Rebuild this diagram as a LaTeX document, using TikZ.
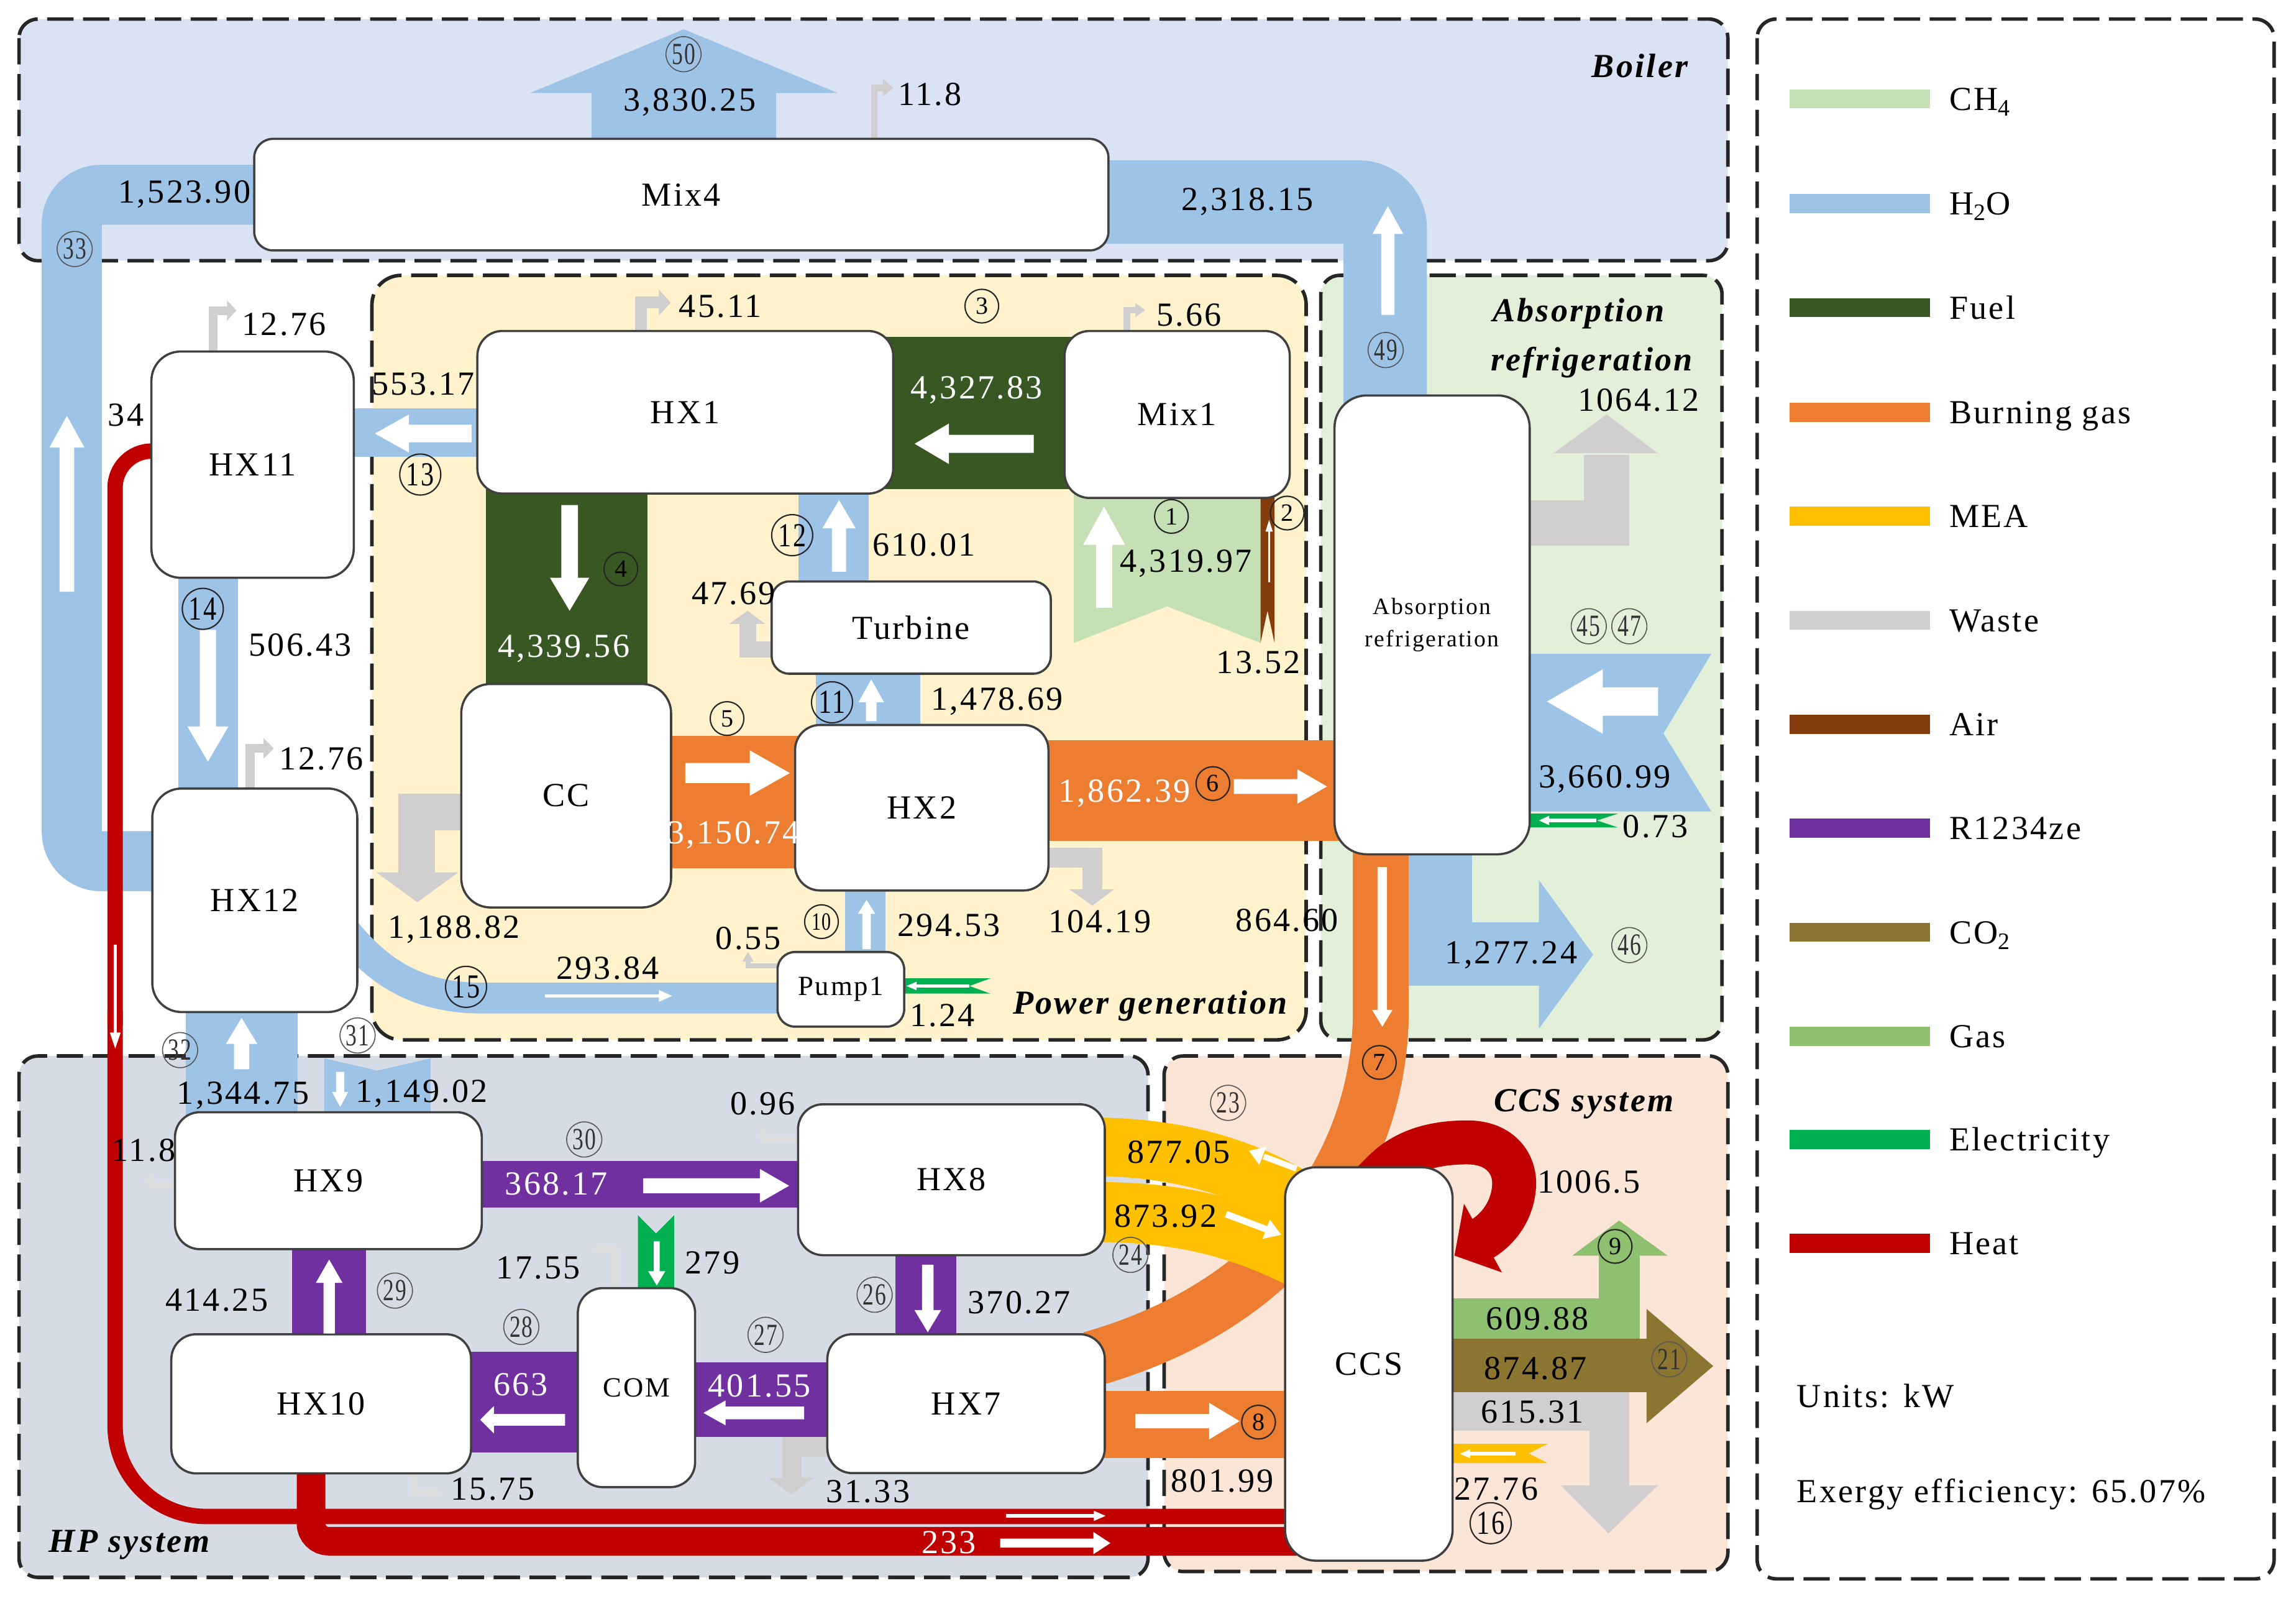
\documentclass[tikz,border=0pt]{standalone}
\usepackage{fontspec}
\setmainfont{Liberation Serif}[LetterSpace=6]
\usepackage{graphicx}
\definecolor{cBoiler}{HTML}{DAE3F3}
\definecolor{cPower}{HTML}{FFF2CC}
\definecolor{cAbs}{HTML}{E2F0D9}
\definecolor{cHP}{HTML}{D6DCE5}
\definecolor{cCCS}{HTML}{FBE5D6}
\definecolor{cCH4}{HTML}{C5E0B4}
\definecolor{cH2O}{HTML}{9DC3E6}
\definecolor{cFuel}{HTML}{385723}
\definecolor{cBurn}{HTML}{ED7D31}
\definecolor{cMEA}{HTML}{FFC000}
\definecolor{cWaste}{HTML}{D0CECE}
\definecolor{cWasteL}{HTML}{DCDCDC}
\definecolor{cAir}{HTML}{843C0C}
\definecolor{cR}{HTML}{7030A0}
\definecolor{cCO2}{HTML}{8B7530}
\definecolor{cGas}{HTML}{8DC06F}
\definecolor{cElec}{HTML}{00B050}
\definecolor{cHeat}{HTML}{C00000}
\definecolor{cBorder}{HTML}{404040}
\newcommand{\ffN}{\fontsize{23}{27}\selectfont}
\newcommand{\ffM}{\fontsize{19}{22}\selectfont}
\newcommand{\ffS}{\fontsize{16}{19}\selectfont}
\newcommand{\ffC}{\fontsize{17}{17}\selectfont}
\newcommand{\ffCL}{\fontsize{23}{23}\selectfont}
\newcommand{\ffCS}{\fontsize{21}{21}\selectfont}
\newcommand{\ffG}{\fontsize{23}{27}\selectfont\bfseries\itshape}
\newcommand{\flowH}[7]{\fill[#1] (#2,{#5-(#6)/2}) -- (#3,{#5-(#6)/2}) -- (#3,{#5-(#7)/2}) -- (#4,#5) -- (#3,{#5+(#7)/2}) -- (#3,{#5+(#6)/2}) -- (#2,{#5+(#6)/2}) -- cycle;}
\newcommand{\flowV}[7]{\fill[#1] ({#5-(#6)/2},#2) -- ({#5-(#6)/2},#3) -- ({#5-(#7)/2},#3) -- (#5,#4) -- ({#5+(#7)/2},#3) -- ({#5+(#6)/2},#3) -- ({#5+(#6)/2},#2) -- cycle;}
\newcommand{\tipT}[7]{\fill[#1] (#2,#3) -- (#4,#5) -- (#6,#7) -- cycle;}
\newcommand{\legi}[4]{\fill[#1] (1222,{#2-6.5}) rectangle (1318,{#2+6.5}); \node[lb, anchor=west] (#4) at (1331,#2) {#3};}
\tikzset{
 grp/.style={draw=black!85, line width=2.4pt, dash pattern=on 18pt off 6.5pt, rounded corners=13pt},
 unit/.style={draw=cBorder, fill=white, line width=1.5pt, rounded corners=17pt, inner sep=0pt, font=\ffN},
 lb/.style={inner sep=0pt, font=\ffN, text height=15.5pt, text depth=0pt},
 wlb/.style={lb, text=white},
 glb/.style={inner sep=0pt, font=\ffG, text height=15.5pt, text depth=0pt},
 slb/.style={inner sep=0pt, font=\ffS, text height=10.8pt, text depth=0pt},
 cnA/.style={circle, draw=black!85, line width=0.9pt, inner sep=0pt, minimum size=23pt, font=\ffC},
 cnB/.style={circle, draw=black!85, line width=0.9pt, inner sep=0pt, minimum size=28pt, font=\ffCL},
 cnC/.style={circle, draw=black!65, line width=0.7pt, inner sep=0pt, minimum size=24pt, font=\ffCS, text=black!80},
}
\begin{document}
\begin{tikzpicture}[x=1pt,y=-1pt]
\useasboundingbox (0,0) rectangle (1568,1093);
\fill[white] (0,0) rectangle (1568,1093);
% ---------- groups
\draw[grp, fill=cBoiler] (13,13) rectangle (1180,178);
\draw[grp, fill=cPower, rounded corners=20pt] (254,188) rectangle (892,710);
\draw[grp, fill=cAbs] (902,188) rectangle (1176,710);
\draw[grp, fill=cHP] (13,721) rectangle (784,1077);
\draw[grp, fill=cCCS] (795,721) rectangle (1180,1073);
\draw[grp] (1200,13) rectangle (1553,1078);
% ---------- flows: boiler / left column
\draw[cH2O, line width=41pt, rounded corners=20pt] (112,588) -- (49,588) -- (49,133) -- (182,133);
\draw[cH2O, line width=57pt, rounded corners=18pt] (946,282) -- (946,138) -- (748,138);
\flowV{cH2O}{100}{63.5}{20}{467}{126}{210}
\draw[cWaste, line width=4.5pt] (597,97) -- (597,60) -- (604,60);
\tipT{cWaste}{603}{54}{610}{60}{603}{66}
\draw[cWaste, line width=6pt] (145.5,242) -- (145.5,212) -- (156,212);
\tipT{cWaste}{155}{205}{161.5}{212}{155}{219}
\draw[cHeat, line width=10.5pt, rounded corners=25pt] (112,308) -- (78.6,308) -- (78.6,700);
\draw[cHeat, line width=10.5pt, rounded corners=62pt] (78.6,690) -- (78.6,1035.4) -- (886,1035.4);
\fill[cH2O] (235,279) rectangle (335,311.7);
\fill[cH2O] (122,390) rectangle (162.4,545);
\draw[cWaste, line width=6pt] (170.8,540) -- (170.8,511) -- (181,511);
\tipT{cWaste}{180}{504}{187}{511}{180}{518}
\fill[cH2O] (126.8,685) rectangle (203.2,766);
\fill[cH2O] (221.4,722.6) -- (257.7,731) -- (294,722.6) -- (294,766) -- (221.4,766) -- cycle;
\draw[cH2O, line width=21pt] (236,636) .. controls (262,668) and (290,681.5) .. (330,681.5) -- (540,681.5);
\draw[cHeat, line width=19.5pt, rounded corners=12pt] (212.4,1000) -- (212.4,1052.3) -- (886,1052.3);
% ---------- power generation
\draw[cWaste, line width=8pt] (437.8,228) -- (437.8,206.6) -- (451,206.6);
\tipT{cWaste}{450}{197.8}{458}{206.6}{450}{215.4}
\fill[cFuel] (600,230) rectangle (740,334);
\draw[cWaste, line width=4.5pt] (769.5,227) -- (769.5,211.7) -- (776,211.7);
\tipT{cWaste}{775.5}{207}{782}{211.7}{775.5}{216.4}
\fill[cCH4] (733.3,335) -- (733.3,439) -- (797,414) -- (860.8,439) -- (860.8,335) -- cycle;
\fill[cAir] (860.8,335) -- (860.8,439) -- (865.6,417) -- (870.4,439) -- (870.4,335) -- cycle;
\fill[cFuel] (332,330) rectangle (442,474);
\fill[cH2O] (545.3,330) rectangle (593.4,405);
\draw[cWaste, line width=11.3pt] (535,443.5) -- (510.8,443.5) -- (510.8,425);
\tipT{cWaste}{498}{426}{510.5}{417}{522.5}{426}
\fill[cH2O] (557,455) rectangle (628.5,502);
\fill[cBurn] (450,502.5) rectangle (550,593);
\fill[cBurn] (710,505.3) rectangle (920,574);
\draw[cWaste, line width=25pt] (322,554.5) -- (284.7,554.5) -- (284.7,597);
\tipT{cWaste}{257}{595.6}{285}{616}{313}{595.6}
\draw[cWaste, line width=13.8pt] (708,585.7) -- (746,585.7) -- (746,608);
\tipT{cWaste}{730.3}{607.2}{746}{618.3}{760.9}{607.2}
\fill[cH2O] (577.3,600) rectangle (604.6,657);
\draw[cWaste, line width=3.5pt] (535,659.5) -- (510.8,659.5) -- (510.8,656);
\tipT{cWaste}{507}{656.5}{510.8}{650}{514.6}{656.5}
\fill[cElec] (612,668) -- (676.4,668) -- (662,673.2) -- (676.4,678.4) -- (612,678.4) -- cycle;
% ---------- absorption
\fill[cH2O] (962,575) rectangle (1005.5,673);
\fill[cH2O] (962,629.7) rectangle (1052,673);
\tipT{cH2O}{1051}{601}{1088}{651.8}{1051}{702.3}
\fill[cH2O] (1035,446.4) -- (1168.7,446.4) -- (1136,500.8) -- (1168.7,554) -- (1035,554) -- cycle;
\draw[cWaste, line width=31pt] (1035,357) -- (1097.2,357) -- (1097.2,310.5);
\tipT{cWaste}{1061}{309.4}{1097.2}{283}{1132}{309.4}
\fill[cElec] (1035,555.5) -- (1105,555.5) -- (1090.6,560.2) -- (1105,565) -- (1035,565) -- cycle;
% ---------- HP system
\draw[cWasteL, line width=3.5pt] (125,809) -- (102.6,809) -- (102.6,806);
\tipT{cWasteL}{99}{806.5}{102.6}{800}{106.2}{806.5}
\fill[cR] (320,792.5) rectangle (555,824.7);
\draw[cWasteL, line width=3.5pt] (550,778) -- (520.7,778) -- (520.7,775.5);
\tipT{cWasteL}{517}{776}{520.7}{769.5}{524.4}{776}
\fill[cElec] (435.7,829.8) -- (448,842.2) -- (460.4,829.8) -- (460.4,886) -- (435.7,886) -- cycle;
\draw[cWasteL, line width=4pt] (419.7,885) -- (419.7,853) -- (411,853);
\tipT{cWasteL}{411.5}{848.5}{404.5}{853}{411.5}{857.5}
\fill[cR] (611.5,850) rectangle (653,918);
\fill[cR] (468,930) rectangle (572,981);
\draw[cWaste, line width=13.5pt] (572,988) -- (540.8,988) -- (540.8,1010);
\tipT{cWaste}{524.5}{1008.9}{540.4}{1020.4}{555.7}{1008.9}
\fill[cR] (315,922.9) rectangle (400,991.5);
\fill[cR] (199.3,846) rectangle (250,918);
\draw[cWasteL, line width=4pt] (282.5,1000) -- (282.5,1019) -- (294.5,1019);
\tipT{cWasteL}{294}{1014.5}{301.4}{1019}{294}{1023.5}
% ---------- CCS
\draw[cBurn, line width=38pt] (943,575) -- (943,690) .. controls (943,790) and (880,890) .. (745,928);
\draw[cMEA, line width=41pt] (745,827.5) .. controls (800,827.5) and (840,835) .. (890,860);
\draw[cMEA, line width=40pt] (745,783) .. controls (800,783) and (850,795) .. (895,825);
\begin{scope}
\clip (880,560) rectangle (1000,797);
\draw[cBurn, line width=38pt] (943,575) -- (943,690) .. controls (943,790) and (880,890) .. (745,928);
\end{scope}
\fill[cBurn] (748,949.5) rectangle (885,995.5);
\fill[cGas] (985,886.5) rectangle (1119.8,914);
\fill[cGas] (1092,857) rectangle (1119.8,914);
\tipT{cGas}{1073.8}{857.3}{1105.7}{833.4}{1138.8}{857.3}
\fill[cCO2] (985,914) rectangle (1124.5,950.4);
\tipT{cCO2}{1124.5}{893.7}{1170}{932.7}{1124.5}{971.7}
\fill[cWaste] (985,950.4) rectangle (1112.7,976.9);
\fill[cWaste] (1085.5,950.4) rectangle (1112.7,1014.5);
\tipT{cWaste}{1066}{1014.2}{1098.5}{1047}{1132.2}{1014.2}
\fill[cMEA] (985,985.8) -- (1057,985.8) -- (1044,992.4) -- (1057,999) -- (985,999) -- cycle;
\draw[cHeat, line width=30pt] (930,815) -- (945,800) .. controls (960,785) and (980,780) .. (1002,780) .. controls (1025,780) and (1035,795) .. (1034,810) .. controls (1033,825) and (1025,838) .. (1012,846);
\tipT{cHeat}{999.8}{821.9}{993.3}{857.3}{1025.7}{868.8}
% ---------- units
\node[unit, rounded corners=13pt, minimum width=583.4pt, minimum height=76.2pt] (Mix4) at (465.3,132.9) {Mix4};
\node[unit, minimum width=138.2pt, minimum height=154.5pt, rounded corners=20pt] (HX11) at (172.5,317.25) {HX11};
\node[unit, minimum width=140pt, minimum height=152.6pt, rounded corners=20pt] (HX12) at (174,614.7) {HX12};
\node[unit, minimum width=284pt, minimum height=111pt] (HX1) at (468,281.5) {HX1};
\node[unit, minimum width=153.8pt, minimum height=114pt] (Mix1) at (803.9,283) {Mix1};
\node[unit, rounded corners=12pt, minimum width=190.6pt, minimum height=63pt] (Turbine) at (622.3,428.5) {Turbine};
\node[unit, minimum width=143.3pt, minimum height=152.6pt, rounded corners=20pt] (CC) at (386.65,543.3) {CC};
\node[unit, minimum width=173pt, minimum height=113pt] (HX2) at (629.5,551.5) {HX2};
\node[unit, rounded corners=12pt, font=\ffM, minimum width=86.5pt, minimum height=51pt] (Pump1) at (574.25,675.5) {Pump1};
\node[unit, minimum width=133.3pt, minimum height=313.3pt, rounded corners=22pt] (AbsR) at (978,426.65) {};
\node[unit, minimum width=209.5pt, minimum height=93.5pt] (HX9) at (224.25,806.15) {HX9};
\node[unit, minimum width=209.5pt, minimum height=103pt] (HX8) at (649.75,805.5) {HX8};
\node[unit, minimum width=204.7pt, minimum height=95pt] (HX10) at (219.35,958.5) {HX10};
\node[unit, font=\ffM, minimum width=80.1pt, minimum height=135.9pt] (COM) at (434.65,947.45) {COM};
\node[unit, minimum width=189.5pt, minimum height=94.8pt] (HX7) at (659.75,958.4) {HX7};
\node[unit, minimum width=114.4pt, minimum height=268.6pt, rounded corners=21pt] (CCS) at (934.8,931.3) {CCS};
\node[slb] (absA) at (978,414) {Absorption};
\node[slb] (absB) at (978,436) {refrigeration};
% ---------- white direction arrows
\flowV{white}{404}{305.6}{284}{45.7}{10}{24}
\flowV{white}{215}{159.7}{140.8}{947.8}{9}{21}
\flowH{white}{322}{279.3}{256}{296}{12}{26}
\flowV{white}{430}{496}{520}{142}{11}{28}
\flowV{white}{730}{712.8}{695}{165}{10.4}{21.5}
\flowV{white}{731.8}{745.6}{755.8}{232.3}{5.5}{11}
\draw[white, line width=2.5pt] (372,680) -- (451,680);
\tipT{white}{450}{676}{459}{680}{450}{684}
\draw[white, line width=2pt] (78.7,645) -- (78.7,706);
\tipT{white}{75}{705}{78.7}{716}{82.4}{705}
\draw[white, line width=2.5pt] (687,1035) -- (748,1035);
\tipT{white}{747}{1031.5}{755}{1035}{747}{1038.5}
\flowH{white}{683}{746.7}{758.3}{1053.6}{6.2}{15.2}
\flowH{white}{706}{648}{624.6}{303}{12.3}{27.6}
\flowV{white}{415}{372}{346}{754}{11}{28.6}
\draw[white, line width=1.5pt] (866.7,397.6) -- (866.7,362);
\tipT{white}{864.2}{363}{866.7}{355}{869.2}{363}
\flowV{white}{344.8}{394.5}{417}{389}{11.3}{26.8}
\flowV{white}{390.3}{360.8}{341.5}{573}{9.6}{22.8}
\flowV{white}{492.4}{479.5}{463.9}{595}{7.3}{17.5}
\flowH{white}{468}{512}{539.4}{527.8}{13.7}{31}
\flowH{white}{842.6}{886}{906.2}{537}{10}{23.5}
\flowV{white}{648}{624}{614.5}{591.8}{5.7}{12}
\draw[white, line width=2pt] (662,673.2) -- (625,673.2);
\tipT{white}{626}{670.3}{619}{673.2}{626}{676.1}
\flowV{white}{592}{689.5}{701}{944}{6.5}{14}
\flowH{white}{1132.3}{1094.6}{1056.4}{479}{19.3}{44}
\draw[white, line width=2.5pt] (1090,560.2) -- (1057,560.2);
\tipT{white}{1058}{557}{1051}{560.2}{1058}{563.4}
\flowH{white}{439.3}{518.9}{538.9}{809.6}{10.1}{23}
\flowV{white}{847.6}{868}{877.7}{448.5}{4}{11.6}
\flowV{white}{863.5}{894.5}{909.6}{633.6}{7.9}{18.2}
\flowH{white}{549.2}{495.5}{480.4}{964.7}{8.7}{17}
\flowH{white}{385.9}{337.3}{327.9}{969.4}{8}{18.7}
\flowV{white}{910.5}{875.9}{860}{224.8}{7.7}{18.2}
\flowH{white}{775.3}{825.7}{846.5}{970.3}{9.8}{25}
\draw[white, line width=4pt] (885.4,798) -- (863,789.6);
\tipT{white}{864.6}{783.2}{853}{785.7}{860}{795.4}
\draw[white, line width=4.5pt] (837.3,829) -- (865,839.4);
\tipT{white}{862.2}{845.8}{875}{843.1}{867.2}{832.7}
\draw[white, line width=2.5pt] (1035,992.6) -- (1003,992.6);
\tipT{white}{1004}{989.6}{997}{992.6}{1004}{995.6}
% ---------- value labels
\node[lb] (v01) at (126,131) {1,523.90};
\node[lb] (v02) at (471,68) {3,830.25};
\node[lb] (v03) at (635,64) {11.8};
\node[lb] (v04) at (852,136) {2,318.15};
\node[lb] (v05) at (194,221) {12.76};
\node[lb] (v06) at (289,262) {553.17};
\node[lb] (v07) at (205,440) {506.43};
\node[lb] (v08) at (219.5,518) {12.76};
\node[lb] (v09) at (86,283) {34};
\node[lb] (v10) at (166,746) {1,344.75};
\node[lb] (v11) at (288,745) {1,149.02};
\node[lb] (v12) at (415,661) {293.84};
\node[lb] (v13) at (492,209) {45.11};
\node[wlb] (v14) at (667,264.5) {4,327.83};
\node[lb] (v15) at (812,215) {5.66};
\node[lb] (v16) at (810,383) {4,319.97};
\node[lb] (v17) at (859.5,452) {13.52};
\node[wlb] (v18) at (385,441) {4,339.56};
\node[lb] (v19) at (631,372) {610.01};
\node[lb] (v20) at (501,405) {47.69};
\node[lb] (v21) at (681,477) {1,478.69};
\node[wlb] (v22) at (501,568.5) {3,150.74};
\node[wlb] (v23) at (768,540) {1,862.39};
\node[lb] (v24) at (310,633) {1,188.82};
\node[lb] (v25) at (751,629) {104.19};
\node[lb] (v26) at (648,631.5) {294.53};
\node[lb] (v27) at (511,640.6) {0.55};
\node[lb] (v28) at (643.5,693) {1.24};
\node[lb] (v29) at (879,628) {864.60};
\node[lb] (v30) at (1119,273) {1064.12};
\node[lb] (v31) at (1096,530) {3,660.99};
\node[lb] (v32) at (1130.5,564) {0.73};
\node[lb] (v33) at (1032,650) {1,277.24};
\node[lb] (v34) at (98,785) {11.8};
\node[wlb] (v35) at (380,808) {368.17};
\node[lb] (v36) at (521,753.5) {0.96};
\node[lb] (v37) at (486.5,862) {279};
\node[lb] (v38) at (367.6,865.5) {17.55};
\node[lb] (v39) at (696,889) {370.27};
\node[wlb] (v40) at (518.7,946) {401.55};
\node[lb] (v41) at (592.7,1018) {31.33};
\node[wlb] (v42) at (355.7,945) {663};
\node[lb] (v43) at (148,887.5) {414.25};
\node[lb] (v44) at (336.5,1016.4) {15.75};
\node[wlb] (v45) at (648,1053) {233};
\node[lb] (v46) at (805,786.5) {877.05};
\node[lb] (v47) at (796,830) {873.92};
\node[lb] (v48) at (834.8,1010.7) {801.99};
\node[lb] (v49) at (1050,900) {609.88};
\node[lb] (v50) at (1048.6,934) {874.87};
\node[lb] (v51) at (1046.5,964) {615.31};
\node[lb] (v52) at (1021.8,1016.4) {27.76};
\node[lb] (v53) at (1085,807) {1006.5};
% ---------- stream numbers
\node[cnA] (n1) at (800,352.6) {1};
\node[cnA] (n2) at (879,350.3) {2};
\node[cnA] (n3) at (670.5,209) {3};
\node[cnA] (n4) at (424,388.5) {4};
\node[cnA] (n5) at (496.5,490.6) {5};
\node[cnA] (n6) at (828.3,535) {6};
\node[cnA] (n7) at (942,725.4) {7};
\node[cnA] (n8) at (859.5,971) {8};
\node[cnA] (n9) at (1103,851) {9};
\node[cnA] (n10) at (561,629.3) {\scalebox{0.75}[1]{10}};
\node[cnB] (n11) at (568.2,479.5) {\scalebox{0.78}[1]{11}};
\node[cnB] (n12) at (541,365.4) {\scalebox{0.78}[1]{12}};
\node[cnB] (n13) at (287,324) {\scalebox{0.78}[1]{13}};
\node[cnB] (n14) at (138.5,415.7) {\scalebox{0.78}[1]{14}};
\node[cnB] (n15) at (318.3,673.8) {\scalebox{0.78}[1]{15}};
\node[cnB] (n16) at (1018,1040) {\scalebox{0.78}[1]{16}};
\node[cnC] (n21) at (1140,928.2) {\scalebox{0.72}[1]{21}};
\node[cnC] (n23) at (838.7,753) {\scalebox{0.72}[1]{23}};
\node[cnC] (n24) at (772,856.8) {\scalebox{0.72}[1]{24}};
\node[cnC] (n26) at (597.3,884) {\scalebox{0.72}[1]{26}};
\node[cnC] (n27) at (522.8,911.4) {\scalebox{0.72}[1]{27}};
\node[cnC] (n28) at (356,906) {\scalebox{0.72}[1]{28}};
\node[cnC] (n29) at (269.7,881.2) {\scalebox{0.72}[1]{29}};
\node[cnC] (n30) at (399,778) {\scalebox{0.72}[1]{30}};
\node[cnC] (n31) at (244.2,707) {\scalebox{0.72}[1]{31}};
\node[cnC] (n32) at (123,717) {\scalebox{0.72}[1]{32}};
\node[cnC] (n33) at (51,170) {\scalebox{0.72}[1]{33}};
\node[cnC] (n45) at (1085,427.6) {\scalebox{0.72}[1]{45}};
\node[cnC] (n46) at (1112.7,645.3) {\scalebox{0.72}[1]{46}};
\node[cnC] (n47) at (1112.7,427.6) {\scalebox{0.72}[1]{47}};
\node[cnC] (n49) at (946.3,239) {\scalebox{0.72}[1]{49}};
\node[cnC] (n50) at (466.8,37) {\scalebox{0.72}[1]{50}};
% ---------- group titles
\node[glb] (gBoiler) at (1120,45) {Boiler};
\node[glb] (gPower) at (785.5,684.7) {Power generation};
\node[glb] (gAbs1) at (1078,212) {Absorption};
\node[glb] (gAbs2) at (1087,245.5) {refrigeration};
\node[glb] (gCCS) at (1081.6,751) {CCS system};
\node[glb] (gHP) at (88.4,1052) {HP system};
% ---------- legend
\legi{cCH4}{67.5}{CH\textsubscript{4}}{k1}
\legi{cH2O}{139}{H\textsubscript{2}O}{k2}
\legi{cFuel}{210}{Fuel}{k3}
\legi{cBurn}{281.5}{Burning gas}{k4}
\legi{cMEA}{352.5}{MEA}{k5}
\legi{cWaste}{423.5}{Waste}{k6}
\legi{cAir}{494.5}{Air}{k7}
\legi{cR}{565.5}{R1234ze}{k8}
\legi{cCO2}{636.5}{CO\textsubscript{2}}{k9}
\legi{cGas}{707.5}{Gas}{k10}
\legi{cElec}{778}{Electricity}{k11}
\legi{cHeat}{849}{Heat}{k12}
\node[lb, anchor=west] (units) at (1227,953) {Units: kW};
\node[lb, anchor=west] (eff) at (1227,1018) {Exergy efficiency: 65.07\%};
\end{tikzpicture}
\end{document}
